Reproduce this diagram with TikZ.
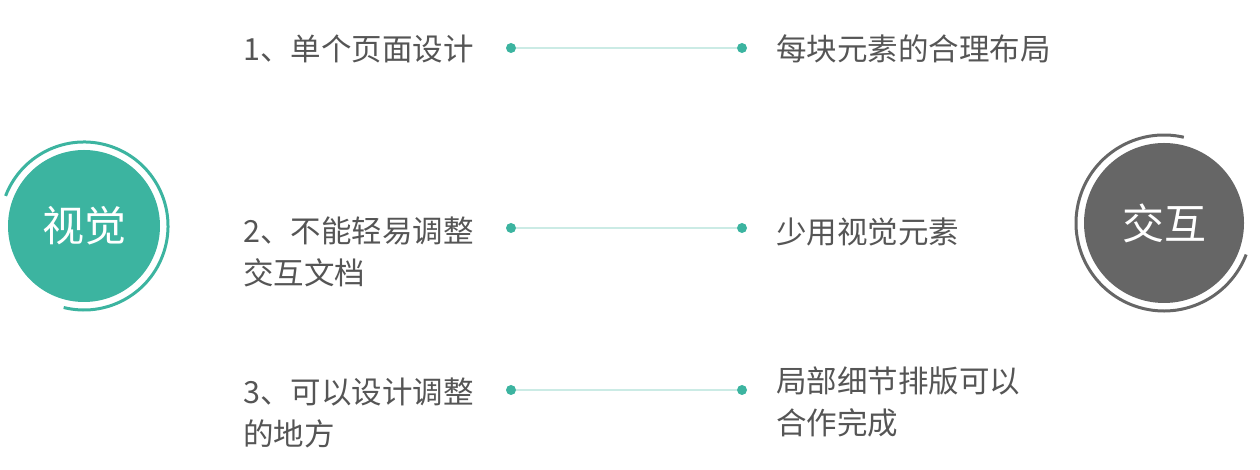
\documentclass[tikz,border=0pt]{standalone}
\usepackage{fontspec}
\setmainfont{Noto Sans CJK SC}
\definecolor{teal1}{HTML}{3CB4A0}
\definecolor{tealline}{HTML}{CBEBE5}
\definecolor{greyc}{HTML}{666666}
\definecolor{txt}{HTML}{555555}
\tikzset{
  dot/.style   = {circle, fill=teal1, inner sep=0pt, minimum size=10pt},
  link/.style  = {tealline, line width=2pt},
  item/.style  = {text=txt, inner sep=0pt, align=left, anchor=west,
                  font=\fontsize{30.5}{42}\selectfont},
  badge/.style = {circle, inner sep=0pt, text=white,
                  font=\fontsize{42}{42}\selectfont}
}
\begin{document}
\begin{tikzpicture}[x=1pt,y=1pt]
\useasboundingbox (0,0) rectangle (1260,470);
% left and right badges
  \node[badge, fill=teal1, minimum size=152pt] (visual) at (84,244) {视觉};
  \draw[teal1, line width=3pt] (84,244) ++(159:84) arc (159:-104:84);
  \node[badge, fill=greyc, minimum size=160pt] (inter) at (1164,247) {交互};
  \draw[greyc, line width=3pt] (1164,247) ++(77:88) arc (77:339:88);

% rows
  \node[dot] (l1) at (511,422) {};
  \node[dot] (r1) at (742,422) {};
  \node[dot] (l2) at (511,242) {};
  \node[dot] (r2) at (742,242) {};
  \node[dot] (l3) at (511,80) {};
  \node[dot] (r3) at (742,80) {};
  \draw[link] (l1) -- (r1);
  \draw[link] (l2) -- (r2);
  \draw[link] (l3) -- (r3);

  \node[item] (q1) at (243,421) {1、单个页面设计};
  \node[item] (q2) at (243,218) {2、不能轻易调整\\交互文档};
  \node[item] (q3) at (243,57) {3、可以设计调整\\的地方};
  \node[item] (a1) at (776,421) {每块元素的合理布局};
  \node[item] (a2) at (776,238) {少用视觉元素};
  \node[item] (a3) at (776,68) {局部细节排版可以\\合作完成};
\end{tikzpicture}
\end{document}
